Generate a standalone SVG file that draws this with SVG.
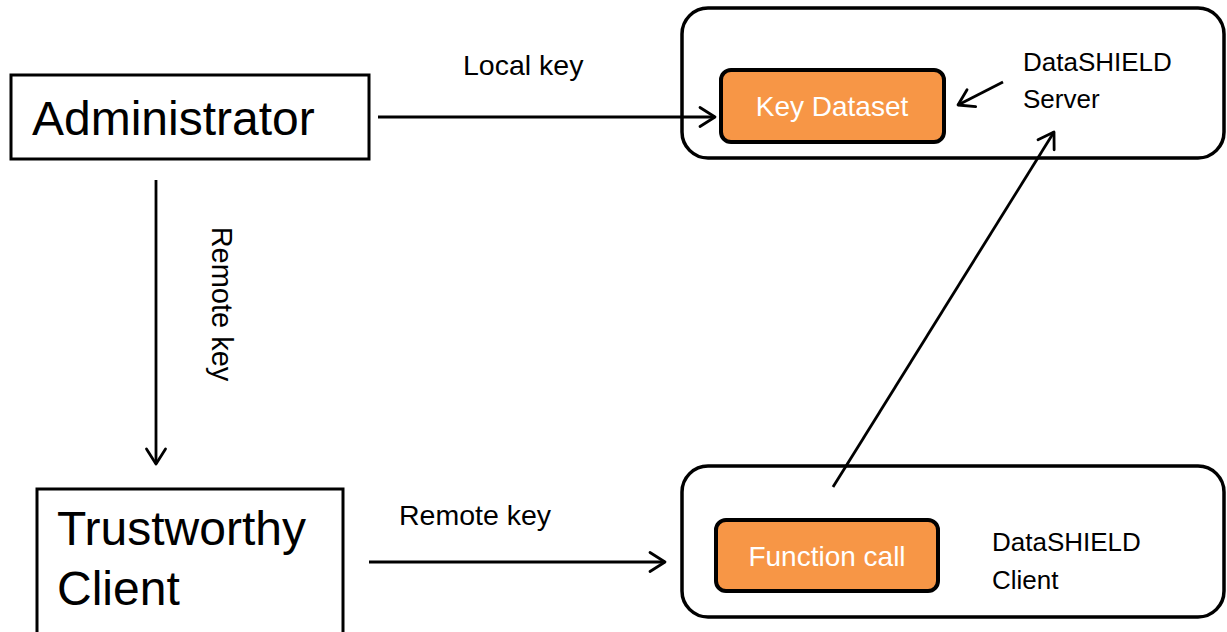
<svg xmlns="http://www.w3.org/2000/svg" width="1227" height="632" viewBox="0 0 1227 632">
<defs>
<style>
.box{fill:#fff;stroke:#000;stroke-width:3}
.group{fill:#fff;stroke:#000;stroke-width:3.5}
.inner{fill:#F79646;stroke:#000;stroke-width:4}
.big{font-family:"Liberation Sans",Arial,sans-serif;font-size:48px;fill:#000}
.lbl{font-family:"Liberation Sans",Arial,sans-serif;font-size:28.5px;fill:#000}
.ds{font-family:"Liberation Sans",Arial,sans-serif;font-size:26px;fill:#000}
.wt{font-family:"Liberation Sans",Arial,sans-serif;font-size:28px;fill:#fff;text-anchor:middle}
.edge{stroke:#000;stroke-width:2.8;fill:none;marker-end:url(#arr)}
</style>
<marker id="arr" markerUnits="userSpaceOnUse" markerWidth="40" markerHeight="40" refX="0" refY="0" viewBox="-20 -20 40 40" orient="auto" overflow="visible">
<path d="M-15,-9.5 L0,0 L-15,9.5" fill="none" stroke="#000" stroke-width="2.8" stroke-linejoin="round" stroke-linecap="round"/>
</marker>
</defs>
<rect width="1227" height="632" fill="#fff"/>

<g id="administrator">
<rect class="box" x="11" y="75" width="358" height="84"/>
<text class="big" x="32" y="135">Administrator</text>
</g>

<g id="trustworthy-client">
<rect class="box" x="37" y="489" width="306" height="160"/>
<text class="big" x="57" y="545">Trustworthy</text>
<text class="big" x="57" y="605">Client</text>
</g>

<g id="datashield-server">
<rect class="group" x="682" y="8" width="542" height="150" rx="26" ry="26"/>
<text class="ds" x="1023" y="71">DataSHIELD</text>
<text class="ds" x="1023" y="108">Server</text>
</g>

<g id="key-dataset">
<rect class="inner" x="721" y="70" width="223" height="72" rx="10" ry="10"/>
<text class="wt" x="832" y="116">Key Dataset</text>
</g>

<g id="datashield-client">
<rect class="group" x="682" y="466" width="542" height="151" rx="26" ry="26"/>
<text class="ds" x="992" y="551">DataSHIELD</text>
<text class="ds" x="992" y="589">Client</text>
</g>

<g id="function-call">
<rect class="inner" x="716" y="520" width="222" height="71" rx="10" ry="10"/>
<text class="wt" x="827" y="566">Function call</text>
</g>

<g id="connectors">
<line class="edge" x1="378" y1="117" x2="715" y2="117"/>
<text class="lbl" x="463" y="75">Local key</text>
<line class="edge" x1="156" y1="180" x2="156" y2="464"/>
<text class="lbl" transform="translate(212,304) rotate(90)" text-anchor="middle" style="font-size:29px">Remote key</text>
<line class="edge" x1="369" y1="562" x2="665" y2="562"/>
<text class="lbl" x="399" y="525">Remote key</text>
<line class="edge" x1="833" y1="487" x2="1054" y2="132"/>
<line class="edge" x1="1003" y1="82" x2="958" y2="105"/>
</g>
</svg>
